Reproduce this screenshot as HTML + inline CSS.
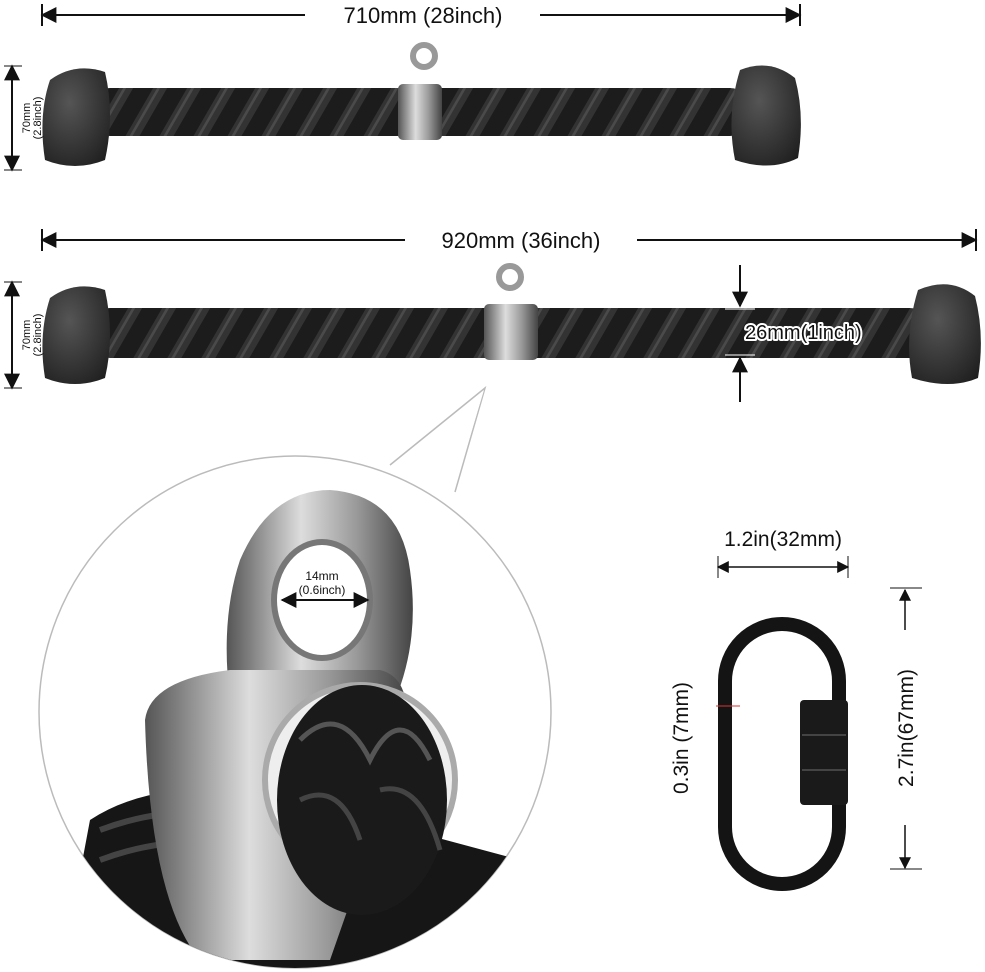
<!DOCTYPE html>
<html><head><meta charset="utf-8"><style>
html,body{margin:0;padding:0;background:#fff}
svg{display:block;font-family:"Liberation Sans",sans-serif}
</style></head><body>
<svg width="985" height="972" viewBox="0 0 985 972" xmlns="http://www.w3.org/2000/svg">
<defs>
<marker id="a" viewBox="0 0 10 10" refX="9" refY="5" markerWidth="8" markerHeight="8" orient="auto-start-reverse"><path d="M0,0L10,5L0,10z" fill="#111"/></marker>
<pattern id="rope" width="34" height="50" patternUnits="userSpaceOnUse" patternTransform="skewX(-30)">
<rect width="34" height="50" fill="#1c1c1c"/><rect width="14" height="50" fill="#333"/><rect x="4" width="3" height="50" fill="#4a4a4a"/>
</pattern>
<linearGradient id="metal" x1="0" x2="1"><stop offset="0" stop-color="#555"/><stop offset=".4" stop-color="#ddd"/><stop offset=".7" stop-color="#999"/><stop offset="1" stop-color="#444"/></linearGradient>
<radialGradient id="cap" cx=".4" cy=".35" r=".8"><stop offset="0" stop-color="#555"/><stop offset="1" stop-color="#1e1e1e"/></radialGradient>
<clipPath id="cc"><circle cx="295" cy="712" r="256"/></clipPath>
</defs>

<line x1="42" y1="15" x2="305" y2="15" stroke="#111" stroke-width="2" marker-start="url(#a)"/>
<line x1="540" y1="15" x2="800" y2="15" stroke="#111" stroke-width="2" marker-end="url(#a)"/>
<line x1="42" y1="4" x2="42" y2="26" stroke="#111" stroke-width="2"/>
<line x1="800" y1="4" x2="800" y2="26" stroke="#111" stroke-width="2"/>
<text x="423" y="23" font-size="22" text-anchor="middle" fill="#111">710mm (28inch)</text>

<rect x="90" y="88" width="660" height="48" rx="20" fill="url(#rope)"/>
<path d="M50,80 Q75,62 105,72 Q115,115 105,160 Q75,172 45,160 Q38,115 50,80z" fill="url(#cap)"/>
<path d="M740,70 Q770,58 795,78 Q805,115 798,158 Q770,172 735,160 Q726,115 740,70z" fill="url(#cap)"/>
<circle cx="424" cy="56" r="11" fill="none" stroke="#999" stroke-width="6"/>
<rect x="398" y="84" width="44" height="56" rx="5" fill="url(#metal)"/>
<line x1="12" y1="66" x2="12" y2="170" stroke="#111" stroke-width="2" marker-start="url(#a)" marker-end="url(#a)"/>
<line x1="4" y1="66" x2="22" y2="66" stroke="#111"/><line x1="4" y1="170" x2="22" y2="170" stroke="#111"/>
<text transform="translate(30,118) rotate(-90)" font-size="11" text-anchor="middle" fill="#111">70mm</text>
<text transform="translate(41,118) rotate(-90)" font-size="11" text-anchor="middle" fill="#111">(2.8inch)</text>

<line x1="42" y1="240" x2="405" y2="240" stroke="#111" stroke-width="2" marker-start="url(#a)"/>
<line x1="637" y1="240" x2="976" y2="240" stroke="#111" stroke-width="2" marker-end="url(#a)"/>
<line x1="42" y1="229" x2="42" y2="251" stroke="#111" stroke-width="2"/>
<line x1="976" y1="229" x2="976" y2="251" stroke="#111" stroke-width="2"/>
<text x="521" y="248" font-size="22" text-anchor="middle" fill="#111">920mm (36inch)</text>

<rect x="90" y="308" width="840" height="50" rx="20" fill="url(#rope)"/>
<path d="M50,298 Q75,280 105,290 Q115,335 105,378 Q75,390 45,378 Q38,335 50,298z" fill="url(#cap)"/>
<path d="M918,290 Q950,276 975,296 Q985,335 978,378 Q950,390 912,378 Q904,335 918,290z" fill="url(#cap)"/>
<circle cx="510" cy="277" r="11" fill="none" stroke="#999" stroke-width="6"/>
<rect x="484" y="304" width="54" height="56" rx="5" fill="url(#metal)"/>
<line x1="740" y1="265" x2="740" y2="306" stroke="#111" stroke-width="2" marker-end="url(#a)"/>
<line x1="740" y1="402" x2="740" y2="358" stroke="#111" stroke-width="2" marker-end="url(#a)"/>
<line x1="725" y1="309" x2="755" y2="309" stroke="#fff"/><line x1="725" y1="355" x2="755" y2="355" stroke="#fff"/>
<text x="745" y="339" font-size="20" fill="#111" stroke="#fff" stroke-width="4" paint-order="stroke" stroke-linejoin="round">26mm(1inch)</text>
<line x1="12" y1="282" x2="12" y2="388" stroke="#111" stroke-width="2" marker-start="url(#a)" marker-end="url(#a)"/>
<line x1="4" y1="282" x2="22" y2="282" stroke="#111"/><line x1="4" y1="388" x2="22" y2="388" stroke="#111"/>
<text transform="translate(30,335) rotate(-90)" font-size="11" text-anchor="middle" fill="#111">70mm</text>
<text transform="translate(41,335) rotate(-90)" font-size="11" text-anchor="middle" fill="#111">(2.8inch)</text>

<path d="M390,465 L485,388 L455,492" fill="#fff" stroke="#bbb" stroke-width="1.5"/>
<circle cx="295" cy="712" r="256" fill="#fff" stroke="#bbb" stroke-width="1.5"/>
<path d="M392,466 L484,390 L454,490" fill="#fff" stroke="none"/>
<g clip-path="url(#cc)">
<path d="M90,820 Q150,780 260,790 L520,860 L520,980 L60,980z" fill="#161616"/>
<path d="M100,830 Q180,800 260,820" stroke="#444" stroke-width="6" fill="none"/>
<path d="M100,860 Q180,830 260,850" stroke="#444" stroke-width="6" fill="none"/>
<path d="M230,700 Q220,620 240,560 Q270,490 330,490 Q400,495 410,570 Q420,640 395,700z" fill="url(#metal)"/>
<ellipse cx="322" cy="600" rx="48" ry="58" fill="#fff" stroke="#777" stroke-width="6"/>
<path d="M145,720 Q150,680 230,670 L380,670 Q420,680 400,760 L330,960 L200,960 Q150,900 145,720z" fill="url(#metal)"/>
<ellipse cx="360" cy="780" rx="95" ry="95" fill="#eee" stroke="#aaa" stroke-width="6"/>
<ellipse cx="362" cy="800" rx="85" ry="115" fill="#1a1a1a"/>
<path d="M300,740 Q340,700 370,760 Q400,700 430,760" stroke="#555" stroke-width="5" fill="none"/>
<path d="M300,800 Q340,780 360,840 M380,790 Q420,780 440,850" stroke="#444" stroke-width="5" fill="none"/>
</g>
<line x1="282" y1="600" x2="368" y2="600" stroke="#111" stroke-width="2" marker-start="url(#a)" marker-end="url(#a)"/>
<text x="322" y="580" font-size="12" text-anchor="middle" fill="#111">14mm</text>
<text x="322" y="594" font-size="12" text-anchor="middle" fill="#111">(0.6inch)</text>

<rect x="725" y="624" width="114" height="260" rx="57" fill="none" stroke="#141414" stroke-width="14"/>
<rect x="800" y="700" width="48" height="105" rx="4" fill="#1a1a1a"/>
<line x1="802" y1="735" x2="846" y2="735" stroke="#444" stroke-width="2"/>
<line x1="802" y1="770" x2="846" y2="770" stroke="#444" stroke-width="2"/>
<line x1="716" y1="706" x2="740" y2="706" stroke="#d33" stroke-width="1"/>
<line x1="718" y1="567" x2="848" y2="567" stroke="#111" stroke-width="1.5" marker-start="url(#a)" marker-end="url(#a)"/>
<line x1="718" y1="556" x2="718" y2="578" stroke="#111"/><line x1="848" y1="556" x2="848" y2="578" stroke="#111"/>
<text x="783" y="546" font-size="21" text-anchor="middle" fill="#111">1.2in(32mm)</text>
<line x1="905" y1="590" x2="905" y2="630" stroke="#111" stroke-width="1.5" marker-start="url(#a)"/>
<line x1="905" y1="825" x2="905" y2="868" stroke="#111" stroke-width="1.5" marker-end="url(#a)"/>
<line x1="890" y1="588" x2="922" y2="588" stroke="#111"/><line x1="890" y1="869" x2="922" y2="869" stroke="#111"/>
<text transform="translate(913,728) rotate(-90)" font-size="21" text-anchor="middle" fill="#111">2.7in(67mm)</text>
<text transform="translate(688,738) rotate(-90)" font-size="21" text-anchor="middle" fill="#111">0.3in (7mm)</text>
</svg>
</body></html>
